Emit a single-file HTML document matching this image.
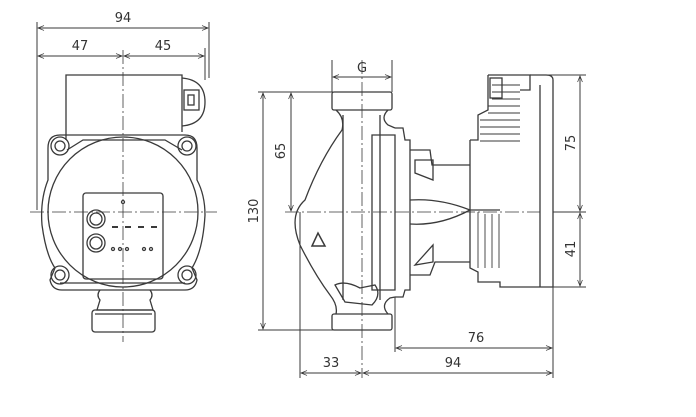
<!DOCTYPE html>
<html><head><style>
html,body{margin:0;padding:0;background:#fff}
svg{display:block}
text{font-family:"DejaVu Sans","Liberation Sans",sans-serif;font-size:13px;fill:#333}
</style></head><body>
<svg width="696" height="417" viewBox="0 0 696 417" xmlns="http://www.w3.org/2000/svg">
<defs>
<marker id="a" viewBox="0 0 10 10" refX="10" refY="5" markerWidth="8" markerHeight="6" orient="auto-start-reverse"><path d="M0,1 L10,5 L0,9" fill="none" stroke="#333" stroke-width="1.2"/></marker>
</defs>
<g stroke="#3a3a3a" stroke-width="1.3" fill="none">
<!-- LEFT VIEW dims -->
<g stroke-width="1">
<line x1="37" y1="22" x2="37" y2="210"/>
<line x1="209" y1="22" x2="209" y2="78"/>
<line x1="205" y1="48" x2="205" y2="80"/>
<line x1="38" y1="28" x2="208" y2="28" marker-start="url(#a)" marker-end="url(#a)"/>
<line x1="38" y1="56" x2="122" y2="56" marker-start="url(#a)" marker-end="url(#a)"/>
<line x1="124" y1="56" x2="204" y2="56" marker-start="url(#a)" marker-end="url(#a)"/>
</g>
<line x1="123" y1="50" x2="123" y2="342" stroke-dasharray="14,3,2,3" stroke-width="0.8"/>
<line x1="30" y1="212" x2="217" y2="212" stroke-dasharray="14,3,2,3" stroke-width="0.8"/>
<!-- top box -->
<path d="M66,140 L66,75 L182,75 L182,132"/>
<path d="M67,150 L83,140 L165,140 L182,150"/>
<!-- connector -->
<path d="M182,78 Q205,80 205,102 Q205,124 182,126"/>
<rect x="184" y="90" width="15" height="20"/>
<rect x="188" y="95" width="6" height="10"/>
<!-- housing -->
<path d="M60,135 Q48,135 48,148 L48,180 Q40,200 42,225 Q46,255 55,268 L50,280 Q52,290 62,290 L185,290 Q195,290 197,280 L192,268 Q203,250 205,215 Q205,195 197,180 L197,148 Q197,135 185,135 Z"/>
<circle cx="123" cy="212" r="75"/>
<circle cx="60" cy="146" r="9"/><circle cx="60" cy="146" r="5"/>
<circle cx="187" cy="146" r="9"/><circle cx="187" cy="146" r="5"/>
<circle cx="60" cy="275" r="9"/><circle cx="60" cy="275" r="5"/>
<circle cx="187" cy="275" r="9"/><circle cx="187" cy="275" r="5"/>
<path d="M60,283 L185,283"/>
<!-- panel -->
<rect x="83" y="193" width="80" height="86" rx="3"/>
<circle cx="96" cy="219" r="9"/><circle cx="96" cy="219" r="6"/>
<circle cx="96" cy="243" r="9"/><circle cx="96" cy="243" r="6"/>
<circle cx="123" cy="202" r="1.5"/>
<g stroke-width="2"><line x1="112" y1="227" x2="118" y2="227"/><line x1="125" y1="227" x2="131" y2="227"/><line x1="138" y1="227" x2="144" y2="227"/><line x1="151" y1="227" x2="157" y2="227"/></g>
<circle cx="113" cy="249" r="1.5"/><circle cx="120" cy="249" r="1.5"/><circle cx="127" cy="249" r="1.5"/><circle cx="144" cy="249" r="1.5"/><circle cx="151" cy="249" r="1.5"/>
<!-- neck -->
<path d="M100,290 Q96,295 100,300 L97,310 L153,310 L150,300 Q154,295 150,290"/>
<rect x="92" y="310" width="63" height="22" rx="3"/>
<line x1="95" y1="314" x2="152" y2="314"/>

<!-- RIGHT VIEW -->
<g stroke-width="1">
<line x1="332" y1="60" x2="332" y2="92"/>
<line x1="392" y1="60" x2="392" y2="92"/>
<line x1="333" y1="77" x2="391" y2="77" marker-start="url(#a)" marker-end="url(#a)"/>
<line x1="258" y1="92" x2="333" y2="92"/>
<line x1="258" y1="330" x2="333" y2="330"/>
<line x1="263" y1="93" x2="263" y2="329" marker-start="url(#a)" marker-end="url(#a)"/>
<line x1="291" y1="93" x2="291" y2="211" marker-start="url(#a)" marker-end="url(#a)"/>
<line x1="553" y1="212" x2="586" y2="212"/>
</g>
<line x1="285" y1="212" x2="540" y2="212" stroke-dasharray="14,3,2,3" stroke-width="0.8"/>
<line x1="362" y1="60" x2="362" y2="378" stroke-dasharray="14,3,2,3" stroke-width="0.8"/>
<!-- flanges -->
<rect x="332" y="92" width="60" height="18" rx="2"/>
<rect x="332" y="314" width="60" height="16" rx="2"/>
<!-- volute body -->
<path d="M336,110 Q345,118 342,130 Q320,160 305,200 Q288,215 300,245 Q315,275 330,295 Q338,305 336,314"/>
<path d="M388,110 Q380,118 388,125 L395,128"/>
<path d="M388,314 Q380,305 390,298 L395,297"/>
<line x1="343" y1="115" x2="343" y2="300"/><line x1="380" y1="115" x2="380" y2="300"/>
<path d="M335,285 Q345,280 360,288 L375,285 Q382,295 372,305 L345,302 Z"/>
<path d="M312,246 L318,233 L325,246 Z" stroke-width="1.5"/>
<!-- plate -->
<path d="M395,128 L403,128 L405,140 L410,140 L410,290 L405,290 L403,297 L395,297"/>
<path d="M372,135 L395,135 L395,290 L372,290 Z"/>
<!-- motor neck -->
<path d="M410,150 L430,150 L432,165 L470,165"/>
<path d="M410,275 L430,275 L435,262 L470,262"/>
<path d="M415,160 L433,160 L433,180 L415,173 Z"/><path d="M415,265 L433,245 L433,262 Z"/>
<path d="M410,200 Q440,198 470,210 Q440,226 410,224"/>
<!-- motor box -->
<path d="M470,140 L470,268 L478,272 L478,282 L500,282 L500,287 L553,287 L553,80 Q553,75 546,75 L530,75"/>
<path d="M488,75 L530,75 L530,90 L520,90"/>
<line x1="540" y1="85" x2="540" y2="287"/>
<path d="M488,75 L488,110 L478,115 L478,140 L470,140"/>
<g stroke-width="0.9">
<line x1="492" y1="85" x2="520" y2="85"/><line x1="492" y1="92" x2="520" y2="92"/><line x1="492" y1="99" x2="520" y2="99"/>
<line x1="488" y1="106" x2="520" y2="106"/><line x1="488" y1="113" x2="520" y2="113"/><line x1="480" y1="120" x2="520" y2="120"/><line x1="480" y1="127" x2="520" y2="127"/><line x1="480" y1="134" x2="520" y2="134"/><line x1="480" y1="141" x2="520" y2="141"/>
<line x1="478" y1="212" x2="478" y2="268"/><line x1="485" y1="214" x2="485" y2="268"/><line x1="492" y1="214" x2="492" y2="268"/><line x1="499" y1="214" x2="499" y2="268"/>
</g>
<rect x="490" y="78" width="12" height="20"/>
<line x1="470" y1="210" x2="500" y2="210"/>
<!-- right dims -->
<g stroke-width="1">
<line x1="530" y1="75" x2="586" y2="75"/>
<line x1="553" y1="287" x2="586" y2="287"/>
<line x1="580" y1="76" x2="580" y2="211" marker-start="url(#a)" marker-end="url(#a)"/>
<line x1="580" y1="213" x2="580" y2="286" marker-start="url(#a)" marker-end="url(#a)"/>
<line x1="395" y1="297" x2="395" y2="352"/>
<line x1="553" y1="287" x2="553" y2="378"/>
<line x1="300" y1="212" x2="300" y2="378"/>
<line x1="396" y1="348" x2="552" y2="348" marker-start="url(#a)" marker-end="url(#a)"/>
<line x1="363" y1="373" x2="552" y2="373" marker-start="url(#a)" marker-end="url(#a)"/>
<line x1="301" y1="373" x2="361" y2="373" marker-start="url(#a)" marker-end="url(#a)"/>
</g>
</g>
<text x="123" y="22" text-anchor="middle">94</text>
<text x="80" y="50" text-anchor="middle">47</text>
<text x="163" y="50" text-anchor="middle">45</text>
<text x="362" y="72" text-anchor="middle">G</text>
<text x="476" y="342" text-anchor="middle">76</text>
<text x="453" y="367" text-anchor="middle">94</text>
<text x="331" y="367" text-anchor="middle">33</text>
<text transform="translate(258,211) rotate(-90)" text-anchor="middle">130</text>
<text transform="translate(285,151) rotate(-90)" text-anchor="middle">65</text>
<text transform="translate(575,143) rotate(-90)" text-anchor="middle">75</text>
<text transform="translate(575,249) rotate(-90)" text-anchor="middle">41</text>
</svg>
</body></html>
